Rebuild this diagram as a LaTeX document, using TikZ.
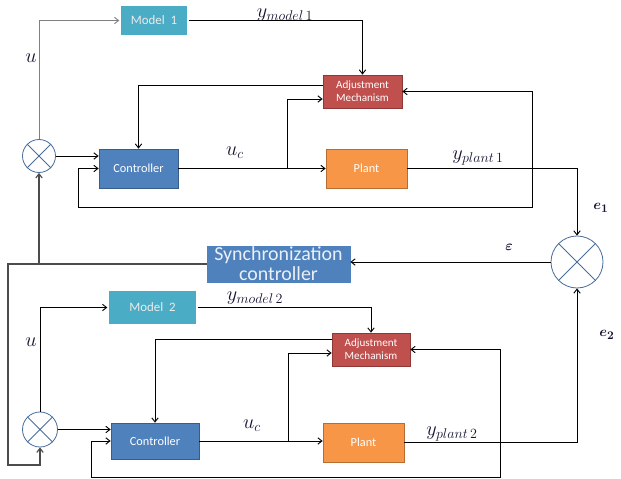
\documentclass[tikz,border=0pt]{standalone}
\usepackage{amsmath, tikz, xcolor}
\usepackage{fontspec}
\newfontfamily\boxfont{Carlito}
\usetikzlibrary{calc, arrows.meta, shadows}
\DeclareMathSizes{17}{17}{13}{10}
\DeclareMathSizes{13}{13}{10}{8}
\definecolor{ctrlblue}{RGB}{79,129,189}
\definecolor{ctrledge}{RGB}{56,93,138}
\definecolor{plantorange}{RGB}{247,150,70}
\definecolor{plantedge}{RGB}{182,109,49}
\definecolor{adjred}{RGB}{192,80,77}
\definecolor{adjedge}{RGB}{140,56,54}
\definecolor{modelteal}{RGB}{75,172,198}
\definecolor{sumedge}{RGB}{74,110,156}
\definecolor{labelink}{RGB}{20,20,50}
\tikzset{
    blockbox/.style={draw, line width=0.6pt, text=white, inner sep=0pt, align=center,
        font=\boxfont\fontsize{10.5}{11}\selectfont},
    ctrlbox/.style={blockbox, fill=ctrlblue, draw=ctrledge},
    plantbox/.style={blockbox, fill=plantorange, draw=plantedge},
    adjbox/.style={blockbox, fill=adjred, draw=adjedge, font=\boxfont\fontsize{9.5}{11}\selectfont},
    modelbox/.style={blockbox, fill=modelteal, draw=white, line width=1.2pt, text=white!92!black,
        font=\boxfont\fontsize{11}{12}\selectfont,
        drop shadow={shadow xshift=0.8pt, shadow yshift=-0.8pt, opacity=0.3}},
    syncbox/.style={blockbox, fill=ctrlblue, draw=ctrlblue, text=white!88!ctrlblue,
        font=\boxfont\fontsize{17}{17}\selectfont},
    sumnode/.style={circle, draw=sumedge, fill=white, line width=0.7pt, inner sep=0pt},
    mathlabel/.style={inner sep=0pt, text=labelink, font=\fontsize{17}{20}\selectfont},
    errlabel/.style={inner sep=0pt, text=labelink, font=\fontsize{13}{15}\selectfont\boldmath},
    sysline/.style={draw=black!70, line width=1pt}
}

\begin{document}
\begin{tikzpicture}[x=0.03cm, y=-0.03cm, line width=0.8pt,
    >={Straight Barb[length=3.5pt, width=5.5pt]}]
    \useasboundingbox (0,0) rectangle (621,478);
    \node[modelbox, minimum width=2.04cm, minimum height=0.93cm] (model1) at (154,20.5) {Model~~1};
    \node[adjbox, minimum width=2.37cm, minimum height=0.99cm] (adj1) at (362.5,91.5) {Adjustment\\Mechanism};
    \node[ctrlbox, minimum width=2.37cm, minimum height=1.17cm] (ctrl1) at (138.5,168.5) {Controller};
    \node[plantbox, minimum width=2.43cm, minimum height=1.17cm] (plant1) at (366.5,168.5) {Plant};
    \node[sumnode, minimum size=0.99cm] (sum1) at (39,156) {};
    \node[syncbox, minimum width=4.29cm, minimum height=1.08cm] (sync) at (278.5,264) {Synchronization\\controller};
    \node[sumnode, minimum size=1.56cm] (bigsum) at (577,262) {};
    \node[modelbox, minimum width=2.67cm, minimum height=1.05cm] (model2) at (152.5,307.5) {Model~~2};
    \node[adjbox, minimum width=2.34cm, minimum height=0.99cm] (adj2) at (371,349.5) {Adjustment\\Mechanism};
    \node[ctrlbox, minimum width=2.64cm, minimum height=1.08cm] (ctrl2) at (155,441) {Controller};
    \node[plantbox, minimum width=2.43cm, minimum height=1.17cm] (plant2) at (363.5,442.5) {Plant};
    \node[sumnode, minimum size=1.05cm] (sum2) at (40,429.5) {};
    \foreach \s in {sum1, sum2, bigsum}
        \draw[draw=sumedge, line width=0.7pt] (\s.north west) -- (\s.south east) (\s.north east) -- (\s.south west);

    \coordinate (uc1) at (287,168.5);
    \coordinate (fb1) at (532,207);
    \coordinate (uc2) at (288,441);
    \coordinate (fb2) at (500,477);
    \coordinate (lt) at (8,264);
    \coordinate (lb) at (8,465);

    \draw[->, draw=gray] (sum1.north) |- (model1.west);
    \draw[->] (model1.east) -| (adj1.north);
    \draw[->] ($(adj1.west)+(0,-6.5)$) -| (ctrl1.north);
    \draw[->] (ctrl1.east) -- (plant1.west);
    \draw[->] (uc1) |- ($(adj1.west)+(0,7.5)$);
    \draw[->] (sum1.east) -- (sum1.east -| ctrl1.west);
    \draw[<->] (ctrl1.west) -- ++(-20,0) |- (fb1) |- (adj1.east);
    \draw[->] (plant1.east) -| (bigsum.north);
    \draw[->] (bigsum.west) -- (bigsum.west -| sync.east);
    \draw[->, sysline] (sync.west) -| (sum1.south);
    \draw[->, sysline] (sync.west) -- (lt) -- (lb) -| (sum2.south);

    \draw[->] (sum2.north) |- (model2.west);
    \draw[->] (model2.east) -| (adj2.north);
    \draw[->] ($(adj2.west)+(0,-10.5)$) -| (ctrl2.north);
    \draw[->] (ctrl2.east) -- (ctrl2.east -| plant2.west);
    \draw[->] (uc2) |- ($(adj2.west)+(0,3.5)$);
    \draw[->] (sum2.east) -- (sum2.east -| ctrl2.west);
    \draw[<->] (ctrl2.west) -- ++(-19,0) |- (fb2) |- (adj2.east);
    \draw[->] (plant2.east) -| (bigsum.south);

    \node[mathlabel] (lu1) at (31,58) {$u$};
    \node[mathlabel] (lym1) at (285,15) {$y_{model\,1}$};
    \node[mathlabel] (luc1) at (235,153) {$u_c$};
    \node[mathlabel] (lyp1) at (478,158) {$y_{plant\,1}$};
    \node[errlabel] (le1) at (601,208) {$e_1$};
    \node[errlabel] (leps) at (509,247) {$\varepsilon$};
    \node[mathlabel] (lym2) at (255,298) {$y_{model\,2}$};
    \node[mathlabel] (lu2) at (31,342) {$u$};
    \node[mathlabel] (luc2) at (252,426) {$u_c$};
    \node[mathlabel] (lyp2) at (452,434) {$y_{plant\,2}$};
    \node[errlabel] (le2) at (607,335) {$e_2$};
\end{tikzpicture}
\end{document}
